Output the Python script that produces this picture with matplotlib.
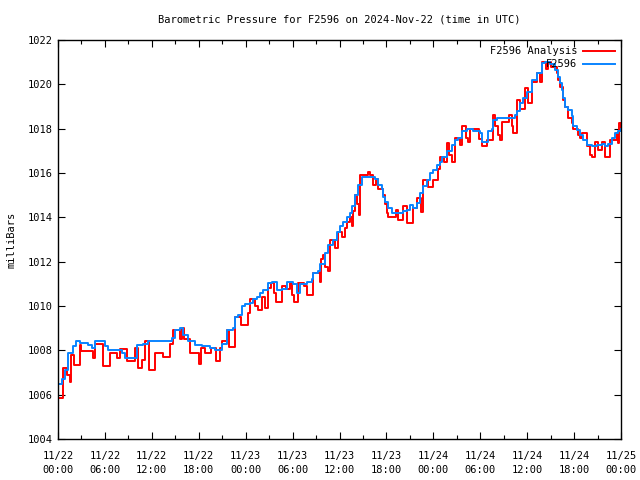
import datetime as dt
import matplotlib
matplotlib.use('Agg')
import matplotlib.pyplot as plt
from matplotlib.ticker import MultipleLocator

plt.rcParams['font.family'] = ['DejaVu Sans Mono']
plt.rcParams['font.size'] = 7.5

# hours since 2024-11-22 00:00 UTC, pressure in mb (step breakpoints)
obs_hours = [0.0, 0.5, 0.9, 1.3, 1.9, 2.3, 2.8, 3.8, 4.35, 4.7, 6.0, 6.4, 8.2, 8.6,
             10.1, 10.9, 11.5, 14.6, 15.0, 15.6, 16.0, 16.6, 17.5, 18.4, 19.4, 20.1,
             21.0, 21.6, 22.4, 22.6, 23.0, 23.5, 23.9, 24.55, 24.9, 25.4, 25.8, 26.2,
             26.85, 27.4, 28.0, 28.6, 29.3, 30.05, 30.55, 30.95, 31.8, 32.5, 32.6, 33.25,
             33.5, 34.1, 34.5, 35.2, 35.7, 36.1, 36.45, 37.0, 37.3, 37.6, 38.0, 38.4,
             38.9, 40.5, 40.9, 41.4, 41.6, 41.8, 42.2, 42.7, 44.1, 44.6, 45.0, 45.4,
             45.9, 46.3, 46.7, 47.2, 47.6, 48.0, 48.5, 48.85, 49.1, 49.7, 50.4, 50.8,
             51.15, 51.7, 52.3, 53.1, 54.0, 54.2, 55.0, 55.5, 55.6, 56.1, 58.4, 58.7,
             59.1, 59.5, 60.0, 60.6, 61.25, 61.9, 62.3, 62.9, 63.55, 63.9, 64.2, 64.45,
             64.6, 64.8, 65.2, 65.7, 65.9, 66.4, 66.75, 67.1, 67.6, 68.3, 68.9, 69.6,
             69.95, 70.3, 70.8, 71.2, 71.6, 72.0]
obs_mb = [1006.5, 1006.7, 1007.1, 1007.9, 1008.2, 1008.4, 1008.35, 1008.25, 1008.1, 1008.4,
          1008.2, 1008.0, 1007.9, 1007.65, 1008.25, 1008.3, 1008.4, 1008.55, 1008.9, 1009.0,
          1008.7, 1008.4, 1008.25, 1008.2, 1008.1, 1008.0, 1008.3, 1008.9, 1009.0, 1009.5,
          1009.6, 1010.0, 1010.1, 1010.15, 1010.3, 1010.4, 1010.6, 1010.7, 1011.05, 1011.1,
          1010.7, 1010.75, 1011.1, 1011.0, 1010.6, 1011.0, 1011.1, 1011.2, 1011.5, 1011.6,
          1011.9, 1012.4, 1012.75, 1013.0, 1013.35, 1013.6, 1013.8, 1014.0, 1014.2, 1014.5,
          1015.0, 1015.45, 1015.8, 1015.75, 1015.45, 1015.3, 1014.9, 1014.7, 1014.4, 1014.2,
          1014.3, 1014.35, 1014.55, 1014.4, 1014.65, 1015.1, 1015.4, 1015.7, 1016.0, 1016.15,
          1016.35, 1016.5, 1016.7, 1017.0, 1017.25, 1017.5, 1017.6, 1017.9, 1018.0, 1017.9,
          1017.8, 1017.4, 1017.9, 1018.0, 1018.4, 1018.5, 1018.6, 1018.8, 1019.15, 1019.4,
          1019.65, 1020.2, 1020.5, 1020.95, 1021.0, 1020.9, 1020.65, 1020.35, 1020.05, 1019.75,
          1019.4, 1019.0, 1018.85, 1018.55, 1018.1, 1017.95, 1017.7, 1017.5, 1017.25, 1017.2,
          1017.25, 1017.3, 1017.2, 1017.3, 1017.6, 1017.8, 1017.9, 1018.0]

ana_hours = [0.0, 0.65, 1.15, 1.55, 1.7, 2.05, 2.8, 2.95, 4.5, 4.75, 5.75, 6.65, 7.55, 7.9,
             8.8, 9.85, 10.2, 10.75, 11.1, 11.65, 12.4, 13.4, 14.3, 14.7, 15.6, 15.85, 16.1,
             16.9, 18.0, 18.3, 18.8, 19.6, 20.2, 20.7, 21.0, 21.6, 21.9, 22.6, 23.4, 24.3,
             24.55, 25.2, 25.6, 26.1, 26.5, 26.85, 27.25, 27.6, 27.9, 28.65, 29.15, 29.65,
             29.9, 30.2, 30.7, 31.45, 31.85, 32.6, 33.5, 33.65, 33.9, 34.15, 34.5, 34.8,
             35.4, 35.8, 36.3, 36.7, 37.0, 37.35, 37.6, 37.7, 38.0, 38.25, 38.5, 38.6,
             39.65, 39.9, 40.3, 40.65, 40.9, 41.6, 41.8, 42.05, 42.2, 43.2, 43.5, 44.1,
             44.6, 45.4, 45.9, 46.4, 46.7, 47.3, 47.95, 48.6, 48.85, 49.35, 49.75, 50.0,
             50.4, 50.8, 51.4, 51.65, 52.2, 52.4, 52.7, 53.8, 54.2, 54.85, 55.6, 55.9,
             56.25, 56.5, 56.8, 57.7, 58.05, 58.2, 58.7, 59.1, 59.7, 60.1, 60.6, 61.25,
             61.6, 61.9, 62.4, 62.65, 63.05, 63.8, 63.95, 64.2, 64.6, 64.8, 65.2, 65.7,
             65.9, 66.5, 66.75, 67.0, 67.6, 68.0, 68.3, 68.65, 69.05, 69.6, 69.95, 70.6,
             71.5, 71.6, 71.75, 72.0]
ana_mb = [1005.85, 1007.2, 1006.9, 1006.55, 1007.8, 1007.35, 1008.25, 1007.95, 1007.65, 1008.3,
          1007.3, 1007.9, 1007.65, 1008.05, 1007.5, 1008.1, 1007.2, 1007.55, 1008.4, 1007.1,
          1007.9, 1007.7, 1008.3, 1008.9, 1008.5, 1009.0, 1008.5, 1007.9, 1007.4, 1008.1,
          1007.9, 1008.1, 1007.5, 1008.1, 1008.4, 1008.9, 1008.15, 1009.5, 1009.15, 1009.7,
          1010.3, 1010.0, 1009.8, 1010.4, 1009.9, 1010.8, 1011.05, 1010.6, 1010.2, 1010.9,
          1010.75, 1011.05, 1010.5, 1010.2, 1011.05, 1010.9, 1010.5, 1011.5, 1011.1, 1012.1,
          1012.3, 1011.75, 1011.6, 1013.0, 1012.6, 1013.35, 1013.1, 1013.5, 1013.8, 1014.0,
          1013.6, 1014.3, 1015.0, 1014.6, 1014.1, 1015.9, 1016.05, 1015.9, 1015.45, 1015.75,
          1015.3, 1015.0, 1014.6, 1014.2, 1014.0, 1014.35, 1013.9, 1014.5, 1013.75, 1014.4,
          1014.85, 1014.25, 1015.7, 1015.35, 1015.7, 1016.2, 1016.7, 1016.5, 1017.35, 1016.8,
          1016.5, 1017.6, 1017.25, 1018.1, 1017.6, 1017.4, 1018.0, 1017.55, 1017.2, 1017.5,
          1018.6, 1018.1, 1017.7, 1017.5, 1018.3, 1018.6, 1018.1, 1017.8, 1019.3, 1018.9,
          1019.85, 1019.15, 1020.1, 1020.5, 1020.1, 1021.0, 1020.7, 1021.0, 1020.8, 1020.5,
          1020.2, 1019.9, 1019.3, 1019.0, 1018.5, 1018.25, 1018.0, 1017.7, 1017.6, 1017.8,
          1017.2, 1016.8, 1016.7, 1017.4, 1017.05, 1017.4, 1016.7, 1017.5, 1017.8, 1017.35,
          1018.25, 1018.0]

start = dt.datetime(2024, 11, 22)
tick_hours = list(range(0, 73, 6))
tick_labels = [(start + dt.timedelta(hours=h)).strftime('%m/%d\n%H:%M') for h in tick_hours]

fig = plt.figure(figsize=(6.4, 4.8), dpi=100)
ax = fig.add_axes([58/640, 1 - 439/480, 563/640, 399/480])

ax.plot(ana_hours, ana_mb, drawstyle='steps-post', color='#ff0000', lw=1.4, label='F2596 Analysis')
ax.plot(obs_hours, obs_mb, drawstyle='steps-post', color='#0a84ff', lw=1.4, label='F2596')

ax.set_xlim(0, 72)
ax.set_ylim(1004, 1022)
ax.set_xticks(tick_hours)
ax.set_xticklabels(tick_labels, linespacing=1.4)
ax.xaxis.set_minor_locator(MultipleLocator(3))
ax.yaxis.set_major_locator(MultipleLocator(2))
ax.tick_params(which='both', direction='in', top=True, right=True, width=0.8, colors='black')
ax.tick_params(which='major', length=5, pad=4)
ax.tick_params(axis='x', which='major', pad=9)
ax.tick_params(which='minor', length=3)
for s in ax.spines.values():
    s.set_linewidth(1.0)

ax.set_ylabel('milliBars', labelpad=8)
fig.suptitle('Barometric Pressure for F2596 on 2024-Nov-22 (time in UTC)', x=0.53, y=0.97, fontsize=7.5)

ax.legend(loc='upper right', frameon=False, markerfirst=False, handlelength=3.0,
          handletextpad=0.6, labelspacing=0.3, borderaxespad=0.2, fontsize=7.5)

fig.savefig('out.png', dpi=100)
